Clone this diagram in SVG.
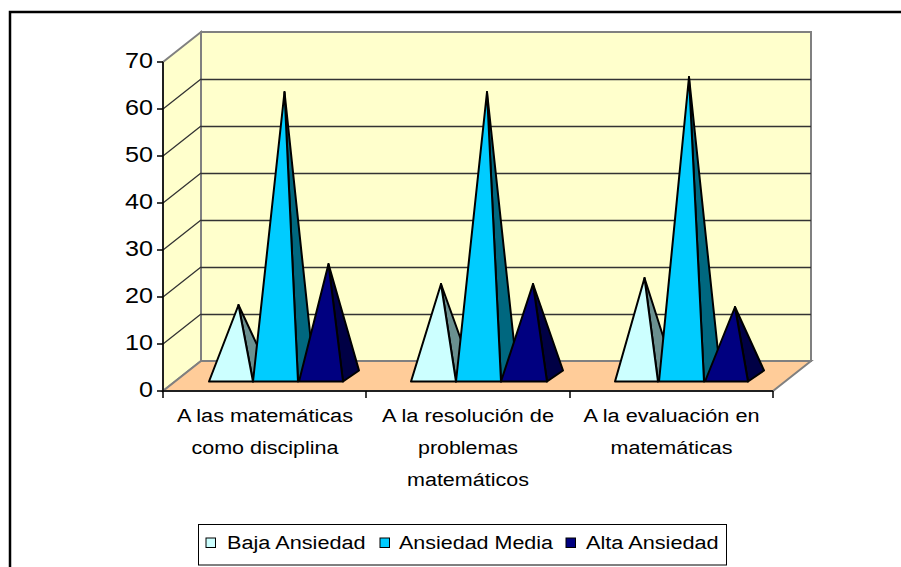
<svg xmlns="http://www.w3.org/2000/svg" width="901" height="567" viewBox="0 0 901 567">
<style>
.wall{fill:#FFFFCC;stroke:#808080;stroke-width:2}
.floor{fill:#FFCC99;stroke:#808080;stroke-width:2}
.grid{stroke:#333;stroke-width:1.3;fill:none}
.axis{stroke:#000;stroke-width:1.5;fill:none}
.pyr{stroke:#000;stroke-width:2;stroke-linejoin:round}
.bajaF{fill:#CCFFFF}.bajaS{fill:#6A9090}
.medF{fill:#00CCFF}.medS{fill:#00677F}
.altaF{fill:#000080}.altaS{fill:#000045}
text{font-family:"Liberation Sans",Arial,sans-serif;fill:#000}
.ylab{font-size:22px;text-anchor:end}
.cat{font-size:18px;text-anchor:middle}
.leg{font-size:18px}
</style>
<rect width="901" height="567" fill="#fff"/>
<g id="frame">
<path d="M10,567 V12 H901" fill="none" stroke="#000" stroke-width="2.5"/>
</g>
<g id="plot-area">
<polygon class="wall" points="163,62 201,32 201,361 163,391"/>
<rect class="wall" x="201" y="32" width="610" height="329"/>
<polygon class="floor" points="163,391 773,391 811,361 201,361"/>
</g>
<g id="gridlines">
<path class="grid" d="M201,79.5H811M201,126.5H811M201,173.5H811M201,220.5H811M201,267.5H811M201,314.5H811"/>
<path class="grid" d="M163,109L201,79M163,156L201,126M163,203L201,173M163,250L201,220M163,297L201,267M163,344L201,314" stroke-width="1"/>
</g>
<g id="axes">
<path class="axis" d="M163,62V391H773"/>
<path class="axis" d="M157,62H163M157,109H163M157,156H163M157,203H163M157,250H163M157,297H163M157,344H163M157,391H163"/>
<path class="axis" d="M163,391V398M366,391V398M570,391V398M773,391V398"/>
<text class="ylab" x="153" y="68" textLength="28" lengthAdjust="spacingAndGlyphs">70</text>
<text class="ylab" x="153" y="115" textLength="28" lengthAdjust="spacingAndGlyphs">60</text>
<text class="ylab" x="153" y="162" textLength="28" lengthAdjust="spacingAndGlyphs">50</text>
<text class="ylab" x="153" y="209" textLength="28" lengthAdjust="spacingAndGlyphs">40</text>
<text class="ylab" x="153" y="256" textLength="28" lengthAdjust="spacingAndGlyphs">30</text>
<text class="ylab" x="153" y="303" textLength="28" lengthAdjust="spacingAndGlyphs">20</text>
<text class="ylab" x="153" y="350" textLength="28" lengthAdjust="spacingAndGlyphs">10</text>
<text class="ylab" x="153" y="397" textLength="14" lengthAdjust="spacingAndGlyphs">0</text>
</g>
<g id="cat1">
<g id="cat1-baja" class="pyr"><polygon class="bajaS" points="253,381.5 269,370.5 238.5,305"/><polygon class="bajaF" points="209,381.5 253,381.5 238.5,305"/></g>
<g id="cat1-media" class="pyr"><polygon class="medS" points="298,381.5 314,370.5 284.5,92"/><polygon class="medF" points="253,381.5 298,381.5 284.5,92"/></g>
<g id="cat1-alta" class="pyr"><polygon class="altaS" points="343,381.5 359,370.5 328.5,264"/><polygon class="altaF" points="299,381.5 343,381.5 328.5,264"/></g>
</g>
<g id="cat2">
<g id="cat2-baja" class="pyr"><polygon class="bajaS" points="456,381.5 472,370.5 441,284"/><polygon class="bajaF" points="411,381.5 456,381.5 441,284"/></g>
<g id="cat2-media" class="pyr"><polygon class="medS" points="501,381.5 517,370.5 487,92"/><polygon class="medF" points="456,381.5 501,381.5 487,92"/></g>
<g id="cat2-alta" class="pyr"><polygon class="altaS" points="547,381.5 563,370.5 533,284"/><polygon class="altaF" points="501,381.5 547,381.5 533,284"/></g>
</g>
<g id="cat3">
<g id="cat3-baja" class="pyr"><polygon class="bajaS" points="658,381.5 674,370.5 644.5,278"/><polygon class="bajaF" points="615,381.5 658,381.5 644.5,278"/></g>
<g id="cat3-media" class="pyr"><polygon class="medS" points="704,381.5 720,370.5 689,77"/><polygon class="medF" points="659,381.5 704,381.5 689,77"/></g>
<g id="cat3-alta" class="pyr"><polygon class="altaS" points="748,381.5 764,370.5 735,307"/><polygon class="altaF" points="705,381.5 748,381.5 735,307"/></g>
</g>
<g id="category-labels">
<text class="cat" x="265" y="422" textLength="176" lengthAdjust="spacingAndGlyphs">A las matemáticas</text>
<text class="cat" x="265" y="454" textLength="147" lengthAdjust="spacingAndGlyphs">como disciplina</text>
<text class="cat" x="468" y="422" textLength="172" lengthAdjust="spacingAndGlyphs">A la resolución de</text>
<text class="cat" x="468" y="454" textLength="100" lengthAdjust="spacingAndGlyphs">problemas</text>
<text class="cat" x="468" y="486" textLength="122" lengthAdjust="spacingAndGlyphs">matemáticos</text>
<text class="cat" x="671.5" y="422" textLength="176" lengthAdjust="spacingAndGlyphs">A la evaluación en</text>
<text class="cat" x="671.5" y="454" textLength="122" lengthAdjust="spacingAndGlyphs">matemáticas</text>
</g>
<g id="legend">
<rect x="198.5" y="524.5" width="528" height="40.5" fill="#fff" stroke="#000" stroke-width="1"/>
<rect class="bajaF" x="206" y="538" width="9.5" height="9.5" stroke="#000" stroke-width="1"/>
<text class="leg" x="227" y="549" textLength="138.6" lengthAdjust="spacingAndGlyphs">Baja Ansiedad</text>
<rect class="medF" x="380" y="538" width="9.5" height="9.5" stroke="#000" stroke-width="1"/>
<text class="leg" x="399" y="549" textLength="154" lengthAdjust="spacingAndGlyphs">Ansiedad Media</text>
<rect class="altaF" x="566" y="538" width="9.5" height="9.5" stroke="#000" stroke-width="1"/>
<text class="leg" x="586" y="549" textLength="132.7" lengthAdjust="spacingAndGlyphs">Alta Ansiedad</text>
</g>
</svg>
